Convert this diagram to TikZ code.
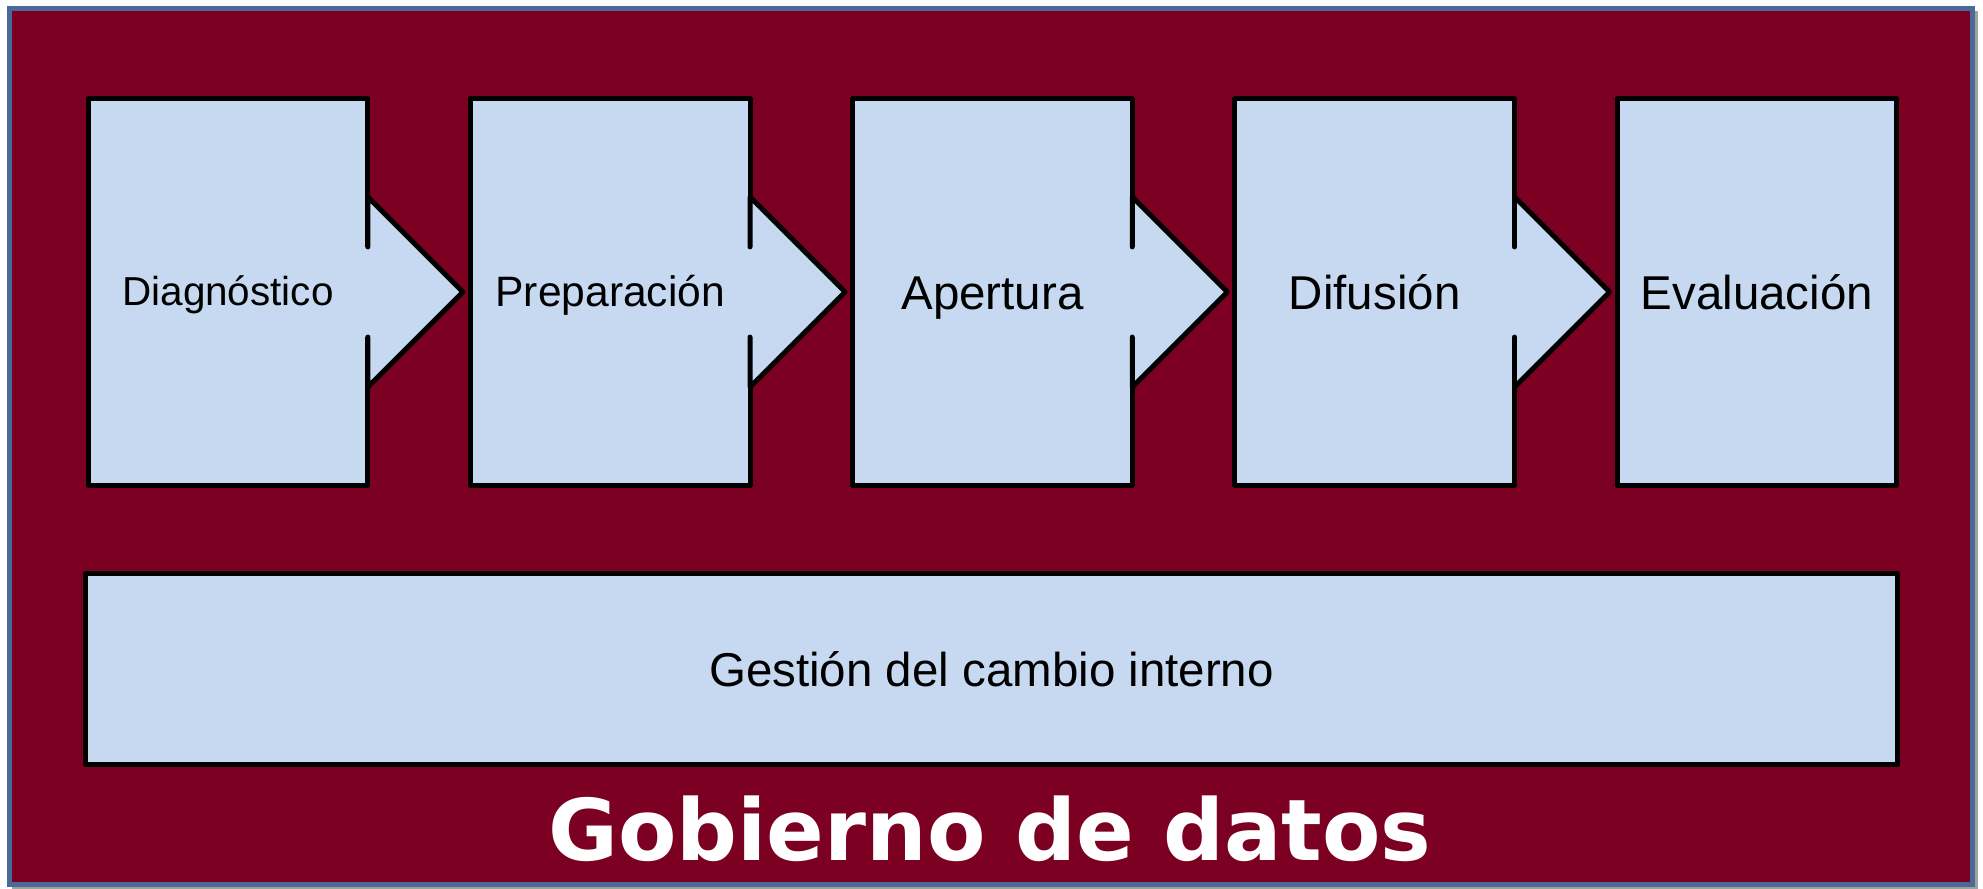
\documentclass[tikz,border=0pt]{standalone}
\usepackage{fontspec}
\setmainfont{Liberation Sans}
\newfontfamily\titulofont{DejaVu Sans}
\usetikzlibrary{positioning}
\definecolor{granate}{HTML}{7B0022}
\definecolor{azulclaro}{HTML}{C6D9F1}
\definecolor{azulborde}{HTML}{4A6B98}
\definecolor{sombra}{HTML}{A0A0A0}
\begin{document}
\begin{tikzpicture}[x=0.01cm, y=-0.01cm, line join=round, line cap=round,
    fase/.style={draw, line width=1.4pt, fill=azulclaro, minimum width=2.795cm, minimum height=3.86cm,
      inner sep=0pt, outer sep=0pt, text height=0.28cm, text depth=0pt, font=\fontsize{11.5}{13}\selectfont},
    grande/.style={text height=0.34cm, font=\fontsize{13.5}{16}\selectfont},
    node distance=1.025cm]
    \useasboundingbox (0,0) rectangle (1983,889);
    % marco
    \fill[sombra] (12,11) rectangle (1978,889);
    \draw[azulborde, fill=granate, line width=1.42pt, line cap=butt, line join=miter] (9.5,8.5) rectangle (1972,884.5);
    % fases
    \node[fase] (f1) at (228,292) {Diagnóstico};
    \node[fase, right=of f1, text height=0.29cm, font=\fontsize{12.1}{14}\selectfont] (f2) {Preparación};
    \node[fase, grande, right=of f2] (f3) {Apertura};
    \node[fase, grande, right=of f3] (f4) {Difusión};
    \node[fase, grande, right=of f4] (f5) {Evaluación};
    % flechas
    \foreach \i in {1,...,4} {
        \fill[azulclaro] ([xshift=-0.1cm,yshift=0.45cm]f\i.east) -- ([yshift=0.45cm]f\i.east) -- ([yshift=0.95cm]f\i.east)
            -- ([xshift=0.95cm]f\i.east) -- ([yshift=-0.95cm]f\i.east) -- ([yshift=-0.45cm]f\i.east)
            -- ([xshift=-0.1cm,yshift=-0.45cm]f\i.east) -- cycle;
        \draw[line width=1.4pt] ([yshift=0.45cm]f\i.east) -- ([yshift=0.95cm]f\i.east) -- ([xshift=0.95cm]f\i.east)
            -- ([yshift=-0.95cm]f\i.east) -- ([yshift=-0.45cm]f\i.east);
    }
    % cambio interno
    \node[fase, grande, minimum width=18.11cm, minimum height=1.905cm] (cambio) at (991.5,669) {Gestión del cambio interno};
    \node[anchor=base, white, font=\titulofont\bfseries\fontsize{24.2}{29}\selectfont] (titulo) at (990,860) {Gobierno de datos};
\end{tikzpicture}
\end{document}
